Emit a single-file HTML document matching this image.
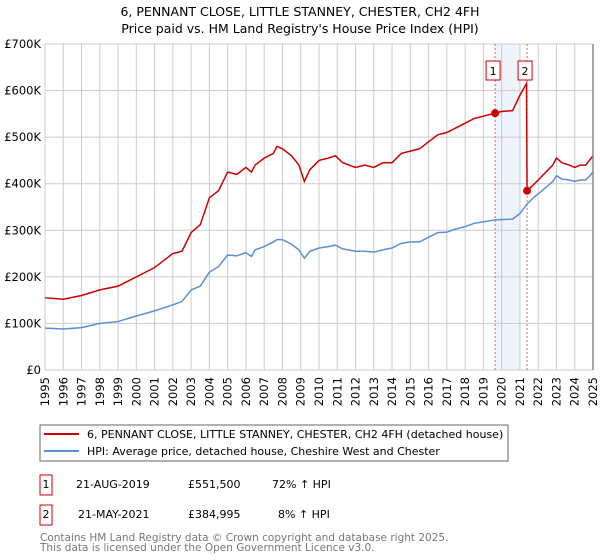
<!DOCTYPE html>
<html><head><meta charset="utf-8"><style>
body{margin:0;background:#fff;font-family:"Liberation Sans","DejaVu Sans",sans-serif;}
#wrap{position:relative;width:600px;height:560px;overflow:hidden;}
.xt{position:absolute;font-family:"DejaVu Sans","Liberation Sans",sans-serif;font-size:11.5px;line-height:12px;width:12px;height:32px;writing-mode:vertical-rl;writing-mode:sideways-lr;text-align:end;white-space:nowrap;}
</style></head><body>
<div id="wrap">
<svg id="chart" width="600" height="560" xmlns="http://www.w3.org/2000/svg" font-family="DejaVu Sans, Liberation Sans, sans-serif">
<text x="300" y="16" text-anchor="middle" font-size="12.5" fill="#000">6, PENNANT CLOSE, LITTLE STANNEY, CHESTER, CH2 4FH</text>
<text x="300" y="33" text-anchor="middle" font-size="12.5" fill="#000">Price paid vs. HM Land Registry's House Price Index (HPI)</text>
<g id="grid"></g><g id="marks"></g><g id="axes"></g>
<rect x="40" y="425" width="468" height="36" fill="#fff" stroke="#666"/>
<line x1="44" y1="434" x2="79" y2="434" stroke="#cc0000" stroke-width="2"/>
<text x="87" y="438" font-size="11">6, PENNANT CLOSE, LITTLE STANNEY, CHESTER, CH2 4FH (detached house)</text>
<line x1="44" y1="451" x2="79" y2="451" stroke="#5b8fd4" stroke-width="2"/>
<text x="87" y="455" font-size="11">HPI: Average price, detached house, Cheshire West and Chester</text>
<rect x="40" y="475" width="12" height="20" fill="#fff" stroke="#cc0000"/>
<text x="46" y="488" font-size="11" text-anchor="middle">1</text>
<text x="76" y="488" font-size="11">21-AUG-2019</text>
<text x="188" y="488" font-size="11">£551,500</text>
<text x="272" y="488" font-size="11">72% ↑ HPI</text>
<rect x="40" y="505" width="12" height="20" fill="#fff" stroke="#cc0000"/>
<text x="46" y="518" font-size="11" text-anchor="middle">2</text>
<text x="78" y="518" font-size="11">21-MAY-2021</text>
<text x="188" y="518" font-size="11">£384,995</text>
<text x="278" y="518" font-size="11">8% ↑ HPI</text>
<text x="40" y="541" font-size="10.5" fill="#777">Contains HM Land Registry data © Crown copyright and database right 2025.</text>
<text x="40" y="551" font-size="10.5" fill="#777">This data is licensed under the Open Government Licence v3.0.</text>
</svg>
</div>
<script>
const hpiYears=[1995,1996,1997,1998,1999,2000,2001,2002,2002.5,2003,2003.5,2004,2004.5,2005,2005.5,2006,2006.3,2006.5,2007,2007.5,2007.7,2008,2008.5,2008.9,2009.2,2009.5,2010,2010.5,2010.9,2011.3,2012,2012.5,2013,2013.5,2014,2014.5,2015,2015.5,2016,2016.5,2017,2017.5,2018,2018.5,2019,2019.6,2020,2020.6,2021,2021.4,2021.8,2022.3,2022.8,2023,2023.3,2023.7,2024,2024.3,2024.6,2024.9,2025];
const hpiValues=[90,88,91,100,104,116,127,140,147,172,180,210,222,247,245,252,244,258,265,275,280,280,270,258,240,255,262,265,268,260,255,255,253,258,262,272,275,275,285,295,296,303,308,315,318,322,323,324,336,357,372,388,405,417,410,408,405,408,408,420,425];
const priceYears=[1995,1996,1997,1998,1999,2000,2001,2002,2002.5,2003,2003.5,2004,2004.5,2005,2005.5,2006,2006.3,2006.5,2007,2007.5,2007.7,2008,2008.5,2008.9,2009.2,2009.5,2010,2010.5,2010.9,2011.3,2012,2012.5,2013,2013.5,2014,2014.5,2015,2015.5,2016,2016.5,2017,2017.5,2018,2018.5,2019,2019.64,2020,2020.6,2021,2021.36,2021.39,2021.8,2022.3,2022.8,2023,2023.3,2023.7,2024,2024.3,2024.6,2024.9,2025];
const priceValues=[155,152,160,172,180,200,220,250,255,295,312,370,385,425,420,435,425,440,455,465,480,475,460,440,405,430,450,455,460,445,435,440,435,445,445,465,470,475,490,505,510,520,530,540,545,551.5,555,557,590,615,385,400,420,440,455,445,440,435,440,440,455,460];
const saleYears=[2019.64,2021.39];
const saleValues=[551.5,385];
const saleLabels=["1","2"];
const yTicks=[0,100,200,300,400,500,600,700];
const yTickLabels=["£0","£100K","£200K","£300K","£400K","£500K","£600K","£700K"];
const xTicks=[1995,1996,1997,1998,1999,2000,2001,2002,2003,2004,2005,2006,2007,2008,2009,2010,2011,2012,2013,2014,2015,2016,2017,2018,2019,2020,2021,2022,2023,2024,2025];

const NS="http://www.w3.org/2000/svg";
const L=45,R=593,T=44,B=370;
const x=v=>L+(v-1995)/30*(R-L);
const y=v=>B-v/700*(B-T);
function mk(parent,tag,attrs){const e=document.createElementNS(NS,tag);for(const k in attrs)e.setAttribute(k,attrs[k]);document.getElementById(parent).appendChild(e);return e;}
let sh=mk('grid','rect',{x:x(2019.64),y:T,width:x(2021.05)-x(2019.64),height:B-T,fill:'#eef3fc'});


yTicks.forEach((t,i)=>{
 const g=mk('grid','line',{x1:L,x2:R,y1:y(t),y2:y(t),stroke:'#ccc'});
 
 
 const tx=mk('axes','text',{x:L-4,y:y(t)+4,'text-anchor':'end','font-size':11.5});
 tx.textContent=yTickLabels[i];
 
 
});
const wrap=document.getElementById('wrap');
xTicks.forEach(t=>{
 const g=mk('grid','line',{x1:x(t),x2:x(t),y1:T,y2:B,stroke:'#ccc'});
 
 
 const d=document.createElement('div');
 d.className='xt';
 d.textContent=t;
 d.style.left=(x(t)-6)+'px';
 d.style.top=(B+7)+'px';
 
 
 wrap.appendChild(d);
});
const ax=mk('axes','line',{x1:R,x2:R,y1:T,y2:B,stroke:'#888','stroke-width':1.5});


saleYears.forEach((s,i)=>{
 const d=mk('grid','line',{x1:x(s),x2:x(s),y1:T,y2:B,stroke:'#e06060','stroke-dasharray':'2,2'});
 
 
 const r=mk('axes','rect',{x:x(s)-9,y:61,width:14,height:19,fill:'#fff',stroke:'#cc0000'});
 
 
 const t=mk('axes','text',{x:x(s)-2,y:75,'font-size':11,'text-anchor':'middle'});
 t.textContent=saleLabels[i];
 
 
});
const hp=mk('marks','polyline',{points:hpiYears.map((v,i)=>x(v)+','+y(hpiValues[i])).join(' '),fill:'none',stroke:'#5b8fd4','stroke-width':1.5});


const pp=mk('marks','polyline',{points:priceYears.map((v,i)=>x(v)+','+y(priceValues[i])).join(' '),fill:'none',stroke:'#cc0000','stroke-width':1.5});


saleYears.forEach((s,i)=>{
 const c=mk('marks','circle',{cx:x(s),cy:y(saleValues[i]),r:4,fill:'#cc0000'});
 
 
});
</script>
</body></html>
